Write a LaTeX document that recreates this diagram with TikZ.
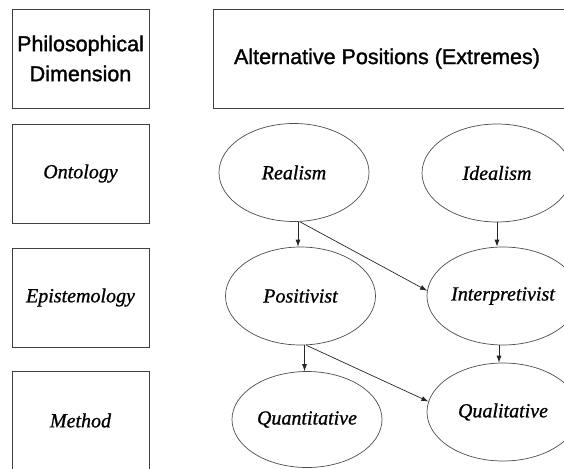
\documentclass[tikz,border=0pt]{standalone}
\usepackage{fontspec}
\setmainfont{Liberation Serif}
\setsansfont{Liberation Sans}
\newfontfamily\headfont[FakeBold=1.4]{Liberation Sans}
\newfontfamily\posfont[FakeBold=0.9]{Liberation Serif Italic}
\usepackage{tikz}
\usetikzlibrary{calc, positioning, arrows.meta, shapes.geometric}

\begin{document}
\begin{tikzpicture}[x=1pt, y=-1pt, >={Latex[length=7pt, width=5pt]}]
    \tikzset{
        dimbox/.style={draw=black!75, line width=0.8pt, minimum width=137pt, minimum height=99pt, inner sep=0pt, align=center},
        headtext/.style={font=\headfont\fontsize{21.5}{30}\selectfont},
        postext/.style={font=\posfont\fontsize{20}{24}\selectfont},
        position/.style={draw=black!70, line width=0.7pt, ellipse, minimum width=150pt, minimum height=98pt, inner sep=0pt, postext},
        link/.style={->, draw=black!85, line width=0.7pt}
    }

    \useasboundingbox (0,0) rectangle (564,468);

    \node[dimbox, headtext] (dimhead) at (80.5, 58.5) {Philosophical\\Dimension};
    \node[dimbox, headtext, minimum width=357pt] (althead) at (391.5, 58.5) {};
    \node[headtext] (alttext) at (387, 58.5) {Alternative Positions (Extremes)};

    \node[dimbox, postext] (onto) at (80.5, 173.5) {Ontology};
    \node[dimbox, postext] (epis) at (80.5, 297.5) {Epistemology};
    \node[dimbox, postext] (meth) at (80.5, 420.5) {Method};

    \node[position] (real) at (294, 172.5) {Realism};
    \node[position] (ideal) at (497, 173) {Idealism};
    \node[position] (posi) at (300.5, 296) {Positivist};
    \node[position, minimum width=152pt] (inter) at (503, 296) {Interpretivist};
    \node[position, minimum height=96pt] (quant) at (307, 419.5) {Quantitative};
    \node[position, minimum width=152pt] (qual) at (503, 412) {Qualitative};

    \coordinate (realout) at ($(real.south)+(4,0)$);
    \coordinate (realdiag) at ($(real.south)+(6,0)$);
    \coordinate (posiout) at ($(posi.south)+(4,0)$);
    \coordinate (posidiag) at ($(posi.south)+(6,0)$);
    \coordinate (interout) at ($(inter.south)+(-4,0)$);

    \draw[link] (realout) -- (realout |- posi.north);
    \draw[link] (realdiag) -- (inter.176);
    \draw[link] (ideal.south) -- (ideal.south |- inter.north);
    \draw[link] (posiout) -- (posiout |- quant.north);
    \draw[link] (posidiag) -- (qual.172);
    \draw[link] (interout) -- (interout |- qual.north);

\end{tikzpicture}
\end{document}
